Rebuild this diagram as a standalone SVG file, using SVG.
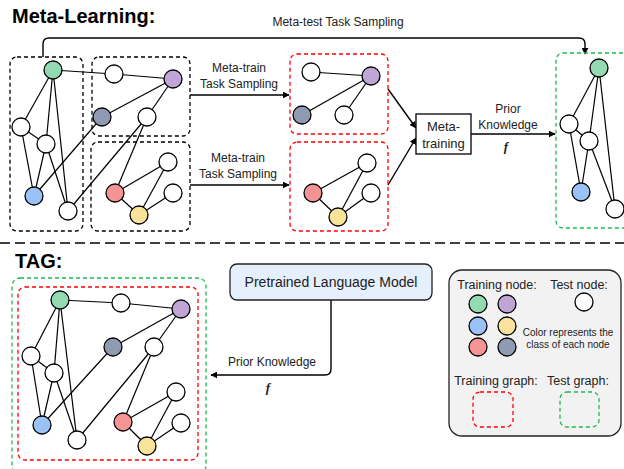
<svg xmlns="http://www.w3.org/2000/svg" width="624" height="469" viewBox="0 0 624 469">
  <defs>
    <marker id="arrow" viewBox="0 0 10 10" refX="9" refY="5" markerWidth="7" markerHeight="7" orient="auto-start-reverse" markerUnits="userSpaceOnUse">
      <path d="M0,0 L10,5 L0,10 z" fill="#000"/>
    </marker>
    <style>
      text { font-family: "Liberation Sans", Arial, sans-serif; fill: #222; }
      .title { font-size: 20px; font-weight: bold; fill: #000; }
      .lbl { font-size: 12px; text-anchor: middle; }
      .leg { font-size: 12.5px; text-anchor: middle; }
      .small { font-size: 10px; text-anchor: middle; }
      .fn { font-family: "Liberation Serif", serif; font-style: italic; font-weight: bold; font-size: 13px; text-anchor: middle; }
      .edge { stroke: #000; stroke-width: 1.2; fill: none; }
      .conn { stroke: #000; stroke-width: 1.4; fill: none; }
      .box-k { fill: none; stroke: #000; stroke-width: 1.3; stroke-dasharray: 4 3; }
      .box-r { fill: none; stroke: #f00; stroke-width: 1.3; stroke-dasharray: 4 3; }
      .box-g { fill: none; stroke: #1db954; stroke-width: 1.3; stroke-dasharray: 4 3; }
      circle { stroke: #000; stroke-width: 1.3; }
      .w { fill: #fff; }
      .cg { fill: #93dab3; }
      .cp { fill: #bfa6d6; }
      .cb { fill: #9bc2f7; }
      .cy { fill: #f9e29a; }
      .cr { fill: #f59494; }
      .cs { fill: #8e9bb3; }
    </style>
  </defs>

  <!-- Section titles -->
  <text class="title" x="12" y="23">Meta-Learning:</text>
  <text class="title" x="15" y="268">TAG:</text>

  <!-- Section separator -->
  <line x1="0" y1="243" x2="624" y2="243" stroke="#000" stroke-width="1.3" stroke-dasharray="10 5"/>

  <!-- Connectors -->
  <g id="connectors">
    <path class="conn" d="M43,57 V44 Q43,38 49,38 H579 Q585,38 585,44 V54" marker-end="url(#arrow)"/>
    <line class="conn" x1="190" y1="95" x2="289" y2="95" marker-end="url(#arrow)"/>
    <line class="conn" x1="190" y1="185" x2="289" y2="185" marker-end="url(#arrow)"/>
    <line class="conn" x1="388" y1="89" x2="416" y2="128" marker-end="url(#arrow)"/>
    <line class="conn" x1="388" y1="185" x2="416" y2="138" marker-end="url(#arrow)"/>
    <line class="conn" x1="471" y1="134" x2="555" y2="134" marker-end="url(#arrow)"/>
    <path class="conn" d="M331,300 V369 Q331,375 325,375 H211" marker-end="url(#arrow)"/>
  </g>

  <!-- Connector labels -->
  <text class="lbl" x="338" y="26">Meta-test Task Sampling</text>
  <text class="lbl" x="239" y="72">Meta-train</text>
  <text class="lbl" x="239" y="88">Task Sampling</text>
  <text class="lbl" x="238" y="162">Meta-train</text>
  <text class="lbl" x="238" y="178">Task Sampling</text>
  <text class="lbl" x="508" y="113">Prior</text>
  <text class="lbl" x="508" y="129">Knowledge</text>
  <text class="fn" x="506" y="151">f</text>
  <text class="lbl" x="272" y="366">Prior Knowledge</text>
  <text class="fn" x="268" y="392">f</text>

  <!-- Full source graph with its two task subgraphs -->
  <g id="source-graph">
    <rect class="box-k" x="10" y="57" width="73" height="174" rx="7"/>
    <rect class="box-k" x="92" y="57" width="98" height="79" rx="7"/>
    <rect class="box-k" x="91" y="142" width="99" height="89" rx="7"/>
    <g>
      <line class="edge" x1="53" y1="70" x2="114" y2="74"/>
      <line class="edge" x1="114" y1="74" x2="173" y2="79"/>
      <line class="edge" x1="53" y1="70" x2="21" y2="127"/>
      <line class="edge" x1="53" y1="70" x2="46" y2="144"/>
      <line class="edge" x1="53" y1="70" x2="68" y2="211"/>
      <line class="edge" x1="21" y1="127" x2="46" y2="144"/>
      <line class="edge" x1="21" y1="127" x2="34" y2="196"/>
      <line class="edge" x1="46" y1="144" x2="34" y2="196"/>
      <line class="edge" x1="46" y1="144" x2="68" y2="211"/>
      <line class="edge" x1="34" y1="196" x2="102" y2="117"/>
      <line class="edge" x1="102" y1="117" x2="173" y2="79"/>
      <line class="edge" x1="68" y1="211" x2="147" y2="117"/>
      <line class="edge" x1="147" y1="117" x2="173" y2="79"/>
      <line class="edge" x1="147" y1="117" x2="115" y2="193"/>
      <line class="edge" x1="115" y1="193" x2="168" y2="162"/>
      <line class="edge" x1="115" y1="193" x2="139" y2="215"/>
      <line class="edge" x1="139" y1="215" x2="168" y2="162"/>
      <line class="edge" x1="139" y1="215" x2="173" y2="193"/>
    </g>
    <circle class="cg" cx="53" cy="70" r="9"/>
    <circle class="w" cx="114" cy="74" r="9"/>
    <circle class="cp" cx="173" cy="79" r="9"/>
    <circle class="w" cx="21" cy="127" r="9"/>
    <circle class="w" cx="46" cy="144" r="9"/>
    <circle class="cs" cx="102" cy="117" r="9"/>
    <circle class="w" cx="147" cy="117" r="9"/>
    <circle class="cb" cx="34" cy="196" r="9"/>
    <circle class="w" cx="68" cy="211" r="9"/>
    <circle class="w" cx="168" cy="162" r="9"/>
    <circle class="cr" cx="115" cy="193" r="9"/>
    <circle class="w" cx="173" cy="193" r="9"/>
    <circle class="cy" cx="139" cy="215" r="9"/>
  </g>

  <!-- Sampled training task 1 -->
  <g id="train-task-1">
    <rect class="box-r" x="290" y="54" width="98" height="80" rx="7"/>
    <line class="edge" x1="311" y1="72" x2="371" y2="76"/>
    <line class="edge" x1="302" y1="115" x2="371" y2="76"/>
    <line class="edge" x1="344" y1="115" x2="371" y2="76"/>
    <circle class="w" cx="311" cy="72" r="9"/>
    <circle class="cp" cx="371" cy="76" r="9"/>
    <circle class="cs" cx="302" cy="115" r="9"/>
    <circle class="w" cx="344" cy="115" r="9"/>
  </g>

  <!-- Sampled training task 2 -->
  <g id="train-task-2">
    <rect class="box-r" x="290" y="142" width="98" height="89" rx="7"/>
    <line class="edge" x1="313" y1="193" x2="367" y2="163"/>
    <line class="edge" x1="313" y1="193" x2="338" y2="217"/>
    <line class="edge" x1="338" y1="217" x2="367" y2="163"/>
    <line class="edge" x1="338" y1="217" x2="371" y2="193"/>
    <circle class="w" cx="367" cy="163" r="9"/>
    <circle class="cr" cx="313" cy="193" r="9"/>
    <circle class="w" cx="371" cy="193" r="9"/>
    <circle class="cy" cx="338" cy="217" r="9"/>
  </g>

  <!-- Meta-training step -->
  <g id="meta-training">
    <rect x="416" y="114" width="55" height="40" fill="#fff" stroke="#000" stroke-width="1.3"/>
    <text class="lbl" x="443.5" y="131" style="font-size:13px">Meta-</text>
    <text class="lbl" x="443.5" y="148" style="font-size:13px">training</text>
  </g>

  <!-- Test task -->
  <g id="test-task">
    <rect class="box-g" x="556" y="53" width="80" height="175" rx="7"/>
    <line class="edge" x1="599" y1="68" x2="569" y2="124"/>
    <line class="edge" x1="599" y1="68" x2="589" y2="141"/>
    <line class="edge" x1="599" y1="68" x2="615" y2="209"/>
    <line class="edge" x1="569" y1="124" x2="589" y2="141"/>
    <line class="edge" x1="569" y1="124" x2="581" y2="192"/>
    <line class="edge" x1="589" y1="141" x2="581" y2="192"/>
    <line class="edge" x1="589" y1="141" x2="615" y2="209"/>
    <circle class="cg" cx="599" cy="68" r="9"/>
    <circle class="w" cx="569" cy="124" r="9"/>
    <circle class="w" cx="589" cy="141" r="9"/>
    <circle class="cb" cx="581" cy="192" r="9"/>
    <circle class="w" cx="615" cy="209" r="9"/>
  </g>

  <!-- Text-attributed graph -->
  <g id="tag-graph">
    <rect class="box-g" x="12" y="278" width="194" height="196" rx="8"/>
    <rect class="box-r" x="18" y="287" width="180" height="173" rx="7"/>
    <g>
      <line class="edge" x1="60" y1="300" x2="121" y2="303"/>
      <line class="edge" x1="121" y1="303" x2="181" y2="309"/>
      <line class="edge" x1="60" y1="300" x2="31" y2="356"/>
      <line class="edge" x1="60" y1="300" x2="54" y2="373"/>
      <line class="edge" x1="60" y1="300" x2="77" y2="440"/>
      <line class="edge" x1="31" y1="356" x2="54" y2="373"/>
      <line class="edge" x1="31" y1="356" x2="42" y2="425"/>
      <line class="edge" x1="54" y1="373" x2="42" y2="425"/>
      <line class="edge" x1="54" y1="373" x2="77" y2="440"/>
      <line class="edge" x1="42" y1="425" x2="113" y2="347"/>
      <line class="edge" x1="113" y1="347" x2="181" y2="309"/>
      <line class="edge" x1="77" y1="440" x2="154" y2="347"/>
      <line class="edge" x1="154" y1="347" x2="181" y2="309"/>
      <line class="edge" x1="154" y1="347" x2="123" y2="422"/>
      <line class="edge" x1="123" y1="422" x2="176" y2="392"/>
      <line class="edge" x1="123" y1="422" x2="147" y2="446"/>
      <line class="edge" x1="147" y1="446" x2="176" y2="392"/>
      <line class="edge" x1="147" y1="446" x2="181" y2="423"/>
    </g>
    <circle class="cg" cx="60" cy="300" r="9"/>
    <circle class="w" cx="121" cy="303" r="9"/>
    <circle class="cp" cx="181" cy="309" r="9"/>
    <circle class="w" cx="31" cy="356" r="9"/>
    <circle class="w" cx="54" cy="373" r="9"/>
    <circle class="cs" cx="113" cy="347" r="9"/>
    <circle class="w" cx="154" cy="347" r="9"/>
    <circle class="cb" cx="42" cy="425" r="9"/>
    <circle class="w" cx="77" cy="440" r="9"/>
    <circle class="cr" cx="123" cy="422" r="9"/>
    <circle class="w" cx="176" cy="392" r="9"/>
    <circle class="w" cx="181" cy="423" r="9"/>
    <circle class="cy" cx="147" cy="446" r="9"/>
  </g>

  <!-- Pretrained language model -->
  <g id="plm">
    <rect x="230" y="264" width="202" height="36" rx="7" fill="#e6effc" stroke="#222" stroke-width="1.3"/>
    <text class="leg" x="331" y="287" style="font-size:14px">Pretrained Language Model</text>
  </g>

  <!-- Legend -->
  <g id="legend">
    <rect x="449" y="270" width="172" height="166" rx="13" fill="#f2f2f2" stroke="#222" stroke-width="1.3"/>
    <text class="leg" x="497" y="289">Training node:</text>
    <text class="leg" x="579" y="289">Test node:</text>
    <circle class="cg" cx="478" cy="304" r="9"/>
    <circle class="cp" cx="507" cy="304" r="9"/>
    <circle class="cb" cx="478" cy="326" r="9"/>
    <circle class="cy" cx="507" cy="326" r="9"/>
    <circle class="cr" cx="478" cy="347" r="9"/>
    <circle class="cs" cx="507" cy="347" r="9"/>
    <circle class="w" cx="584" cy="302" r="9"/>
    <text class="small" x="568" y="336">Color represents the</text>
    <text class="small" x="568" y="348">class of each node</text>
    <text class="leg" x="496" y="385">Training graph:</text>
    <text class="leg" x="578" y="385">Test graph:</text>
    <rect class="box-r" x="473" y="392" width="40" height="35" rx="7"/>
    <rect class="box-g" x="560" y="392" width="39" height="35" rx="7"/>
  </g>
</svg>
